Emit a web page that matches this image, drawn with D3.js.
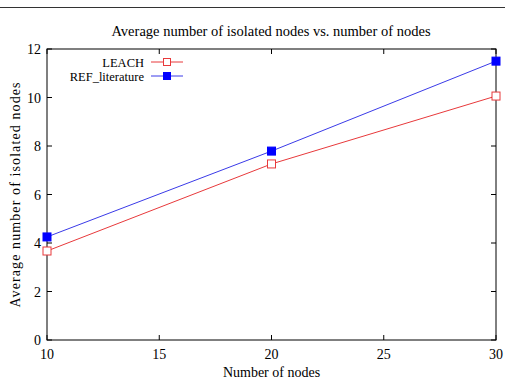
<!DOCTYPE html>
<html>
<head>
<meta charset="utf-8">
<script src="https://cdn.jsdelivr.net/npm/d3@7"></script>
<style>
body { margin: 0; background: #fff; }
text { font-family: "Liberation Serif", "Times New Roman", serif; fill: #000; }
</style>
</head>
<body>
<div id="chart"></div>
<script>
// data
const nodes = [10, 20, 30];
const leach = [3.67, 7.26, 10.06];
const refLit = [4.25, 7.79, 11.5];
const xTicks = [10, 15, 20, 25, 30];
const yTicks = [0, 2, 4, 6, 8, 10, 12];

const width = 506, height = 380;
const margin = {top: 49, right: 10, bottom: 40, left: 47};
const iw = width - margin.left - margin.right;
const ih = height - margin.top - margin.bottom;

const svg = d3.select("#chart").append("svg")
	.attr("width", width)
	.attr("height", height);

// top rule line
svg.append("line")
	.attr("x1", 0).attr("x2", 505)
	.attr("y1", 7.5).attr("y2", 7.5)
	.attr("stroke", "#333").attr("stroke-width", 1);

svg.append("text")
	.attr("x", 271).attr("y", 36)
	.attr("text-anchor", "middle")
	.attr("font-size", 14.5)
	.text("Average number of isolated nodes vs. number of nodes");

const g = svg.append("g").attr("transform", `translate(${margin.left},${margin.top})`);

const x = d3.scaleLinear().domain([10, 30]).range([0, iw]);
const y = d3.scaleLinear().domain([0, 12]).range([ih, 0]);

// frame
g.append("rect")
	.attr("x", 0).attr("y", 0)
	.attr("width", iw).attr("height", ih)
	.attr("fill", "none").attr("stroke", "#000").attr("stroke-width", 1);

// inward ticks, gnuplot style
const tl = 5;
g.selectAll(".xtb").data(xTicks).enter().append("line")
	.attr("x1", d => x(d)).attr("x2", d => x(d))
	.attr("y1", ih).attr("y2", ih - tl)
	.attr("stroke", "#000");
g.selectAll(".xtt").data(xTicks).enter().append("line")
	.attr("x1", d => x(d)).attr("x2", d => x(d))
	.attr("y1", 0).attr("y2", tl)
	.attr("stroke", "#000");
g.selectAll(".ytl").data(yTicks).enter().append("line")
	.attr("x1", 0).attr("x2", tl)
	.attr("y1", d => y(d)).attr("y2", d => y(d))
	.attr("stroke", "#000");
g.selectAll(".ytr").data(yTicks).enter().append("line")
	.attr("x1", iw).attr("x2", iw - tl)
	.attr("y1", d => y(d)).attr("y2", d => y(d))
	.attr("stroke", "#000");

// tick labels
g.selectAll(".xl").data(xTicks).enter().append("text")
	.attr("x", d => x(d)).attr("y", ih + 19)
	.attr("text-anchor", "middle")
	.attr("font-size", 14)
	.text(d => d);
g.selectAll(".yl").data(yTicks).enter().append("text")
	.attr("x", -6).attr("y", d => y(d) + 5)
	.attr("text-anchor", "end")
	.attr("font-size", 14)
	.text(d => d);

// axis titles
svg.append("text")
	.attr("x", margin.left + iw / 2).attr("y", 377)
	.attr("text-anchor", "middle")
	.attr("font-size", 14)
	.text("Number of nodes");
svg.append("text")
	.attr("transform", `translate(20,${margin.top + ih / 2}) rotate(-90)`)
	.attr("text-anchor", "middle")
	.attr("font-size", 14)
	.attr("letter-spacing", 1.1)
	.text("Average number of isolated nodes");

// series
const series = [
	{name: "LEACH", values: leach, color: "#e8393b", filled: false},
	{name: "REF_literature", values: refLit, color: "#3a3ae8", filled: true}
];

const line = d3.line()
	.x((d, i) => x(nodes[i]))
	.y(d => y(d));

series.forEach((s, k) => {
	g.append("path")
		.datum(s.values)
		.attr("d", line)
		.attr("fill", "none")
		.attr("stroke", s.color)
		.attr("stroke-width", 1);
	g.selectAll(".m" + k).data(s.values).enter().append("rect")
		.attr("x", (d, i) => x(nodes[i]) - 4)
		.attr("y", d => y(d) - 4)
		.attr("width", 8).attr("height", 8)
		.attr("fill", s.filled ? "#0000ff" : "#fff")
		.attr("stroke", s.filled ? "#0000ff" : s.color)
		.attr("stroke-width", 1);

	// legend
	const ly = 62 + k * 14;
	svg.append("text")
		.attr("x", 144).attr("y", ly + 4.5)
		.attr("text-anchor", "end")
		.attr("font-size", 12.5)
		.text(s.name);
	svg.append("line")
		.attr("x1", 151).attr("x2", 183)
		.attr("y1", ly).attr("y2", ly)
		.attr("stroke", s.color);
	svg.append("rect")
		.attr("x", 163.5).attr("y", ly - 3.5)
		.attr("width", 7).attr("height", 7)
		.attr("fill", s.filled ? "#0000ff" : "#fff")
		.attr("stroke", s.filled ? "#0000ff" : s.color);
});
</script>
</body>
</html>
